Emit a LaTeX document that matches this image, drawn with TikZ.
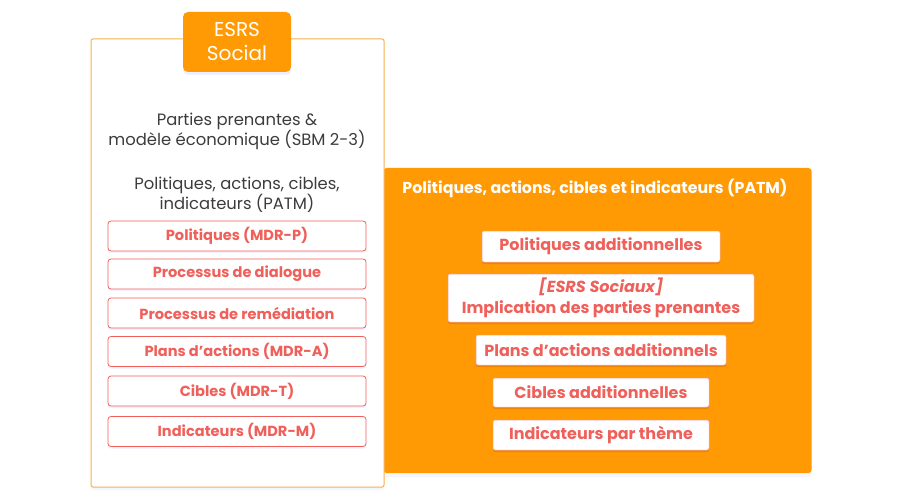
\documentclass[tikz,border=0pt]{standalone}
\usepackage{fontspec}
\setmainfont{Poppins}
\usetikzlibrary{shadows}
\definecolor{orng}{HTML}{FF9A05}
\definecolor{panelb}{HTML}{F7B24E}
\definecolor{redt}{HTML}{F0605A}
\definecolor{darkt}{HTML}{3C3C3C}
\begin{document}
\begin{tikzpicture}[x=1pt,y=-1pt,
  leftbox/.style={draw=redt, line width=0.8pt, rounded corners=3pt, fill=white, text=redt,
    font=\fontsize{14.6}{17}\selectfont\bfseries, minimum width=258pt, minimum height=30pt, inner sep=0pt,
    drop shadow={shadow xshift=0pt, shadow yshift=-2pt, opacity=0.12, fill=blue!40}},
  rightbox/.style={draw=redt!60, line width=0.5pt, rounded corners=2pt, fill=white, text=redt,
    font=\fontsize{16}{18}\selectfont\bfseries, inner sep=0pt, align=center,
    drop shadow={shadow xshift=0pt, shadow yshift=-2pt, opacity=0.15, fill=red!60!black}},
  body/.style={text=darkt, font=\fontsize{16.4}{20}\selectfont, align=center}]
\useasboundingbox (0,0) rectangle (900,500);
\fill[white] (0,0) rectangle (900,500);
% orange panel
\node[fill=orng, rounded corners=3pt, minimum width=428pt, minimum height=305pt, inner sep=0pt,
  drop shadow={shadow xshift=0pt, shadow yshift=-4pt, opacity=0.12, fill=blue!30}] (rpanel) at (597.5,320.5) {};
% left panel
\node[draw=panelb, line width=1pt, fill=white, rounded corners=2pt, minimum width=293pt, minimum height=448pt, inner sep=0pt,
  drop shadow={shadow xshift=0pt, shadow yshift=-3pt, opacity=0.12, fill=blue!30}] (lpanel) at (237.5,263) {};
% tab
\node[fill=orng, rounded corners=5pt, minimum width=108pt, minimum height=60pt, inner sep=0pt, text=white,
  font=\fontsize{20}{24}\selectfont, align=center,
  drop shadow={shadow xshift=0pt, shadow yshift=-3pt, opacity=0.15, fill=blue!40}] (tab) at (237,42) {ESRS\\Social};
% left texts
\node[body] (sbm) at (237,131) {Parties prenantes \&\\modèle économique (SBM 2-3)};
\node[body] (patm) at (237,195) {Politiques, actions, cibles,\\indicateurs (PATM)};
\node[leftbox] (l1) at (237,236) {Politiques (MDR-P)};
\node[leftbox] (l2) at (237,274) {Processus de dialogue};
\node[leftbox] (l3) at (237,313) {Processus de remédiation};
\node[leftbox] (l4) at (237,351.5) {Plans d’actions (MDR-A)};
\node[leftbox] (l5) at (237,391) {Cibles (MDR-T)};
\node[leftbox] (l6) at (237,431.5) {Indicateurs (MDR-M)};
% right texts
\node[text=white, font=\fontsize{15.8}{18}\selectfont\bfseries] (rtitle) at (595,188) {Politiques, actions, cibles et indicateurs (PATM)};
\node[rightbox, minimum width=238pt, minimum height=31pt] (r1) at (601,246.5) {Politiques additionnelles};
\node[rightbox, minimum width=306pt, minimum height=48pt, font=\fontsize{16}{21}\selectfont\bfseries] (r2) at (601,298) {\textit{[ESRS Sociaux]}\\Implication des parties prenantes};
\node[rightbox, minimum width=250pt, minimum height=30pt] (r3) at (601,350) {Plans d’actions additionnels};
\node[rightbox, minimum width=216pt, minimum height=29pt] (r4) at (601,392.5) {Cibles additionnelles};
\node[rightbox, minimum width=216pt, minimum height=30pt] (r5) at (601,435) {Indicateurs par thème};
\end{tikzpicture}
\end{document}
